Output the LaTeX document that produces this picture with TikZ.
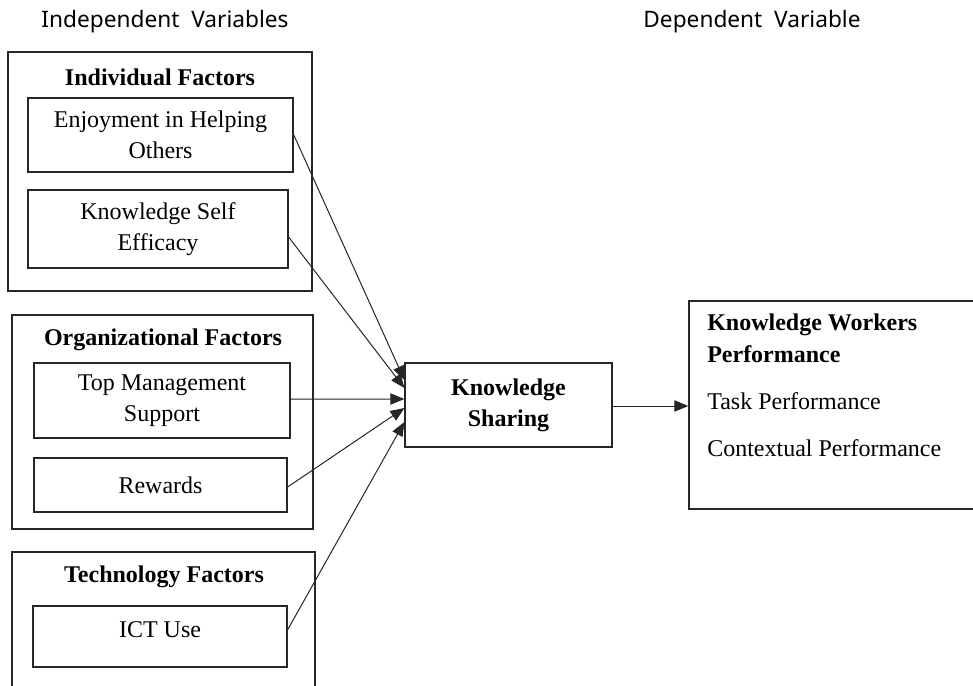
\documentclass[tikz,border=0pt]{standalone}
\usepackage{fontspec}
\setmainfont{Liberation Serif}
\newfontfamily\headfont{Noto Sans}
\usetikzlibrary{arrows.meta,positioning}

\tikzset{
  body/.style={font=\fontsize{18}{23}\selectfont},
  grp/.style={draw=black!85, line width=1pt, inner sep=0pt},
  inbox/.style={draw=black!85, line width=0.9pt, align=center, inner sep=0pt, body},
  grptitle/.style={font=\fontsize{18}{23}\selectfont\bfseries, inner sep=0pt},
  plain/.style={inner sep=0pt, body},
  head/.style={font=\headfont\fontsize{17}{20}\selectfont, inner sep=0pt},
  link/.style={draw=black!85, line width=0.75pt, -{Triangle[length=10.5pt,width=8.5pt]}}
}

\begin{document}
\begin{tikzpicture}[x=0.75pt,y=-0.75pt]
  \useasboundingbox (0,0) rectangle (973,685);
  \clip (0,0) rectangle (973,685);
  \fill[white] (0,0) rectangle (973,685);

  % column headings
  \node[head] (hind) at (165,22) {Independent\ \ Variables};
  \node[head] (hdep) at (752,22) {Dependent\ \ Variable};

  % individual factors
  \node[grp, minimum width=304*0.75pt, minimum height=239*0.75pt] (gind) at (160,171.5) {};
  \node[grptitle] (tind) at (160,77) {Individual Factors};
  \node[inbox, minimum width=265*0.75pt, minimum height=74*0.75pt, line width=1.2pt] (eho) at (160.5,135) {Enjoyment in Helping\\Others};
  \node[inbox, minimum width=260*0.75pt, minimum height=78*0.75pt] (kse) at (158,229) {Knowledge Self\\Efficacy};

  % organizational factors
  \node[grp, minimum width=301*0.75pt, minimum height=214*0.75pt] (gorg) at (162.5,422) {};
  \node[grptitle] (torg) at (163,340) {Organizational Factors};
  \node[inbox, minimum width=256*0.75pt, minimum height=75*0.75pt] (tms) at (162,400.5) {Top Management\\Support};
  \node[inbox, minimum width=253*0.75pt, minimum height=54*0.75pt] (rew) at (160.5,485) {Rewards};

  % technology factors (runs past the lower edge)
  \node[grp, minimum width=303*0.75pt, minimum height=160*0.75pt] (gtec) at (163.5,632) {};
  \node[grptitle] (ttec) at (164,577) {Technology Factors};
  \node[inbox, minimum width=254*0.75pt, minimum height=61*0.75pt] (ict) at (160,636.5) {};
  \node[plain] (ictt) at (160,630) {ICT Use};

  % mediator
  \node[inbox, minimum width=207*0.75pt, minimum height=84*0.75pt, font=\fontsize{18}{23}\selectfont\bfseries] (ks) at (508.5,405) {Knowledge\\Sharing};

  % outcome (runs past the right edge)
  \node[grp, minimum width=300*0.75pt, minimum height=208*0.75pt] (kwp) at (839,405) {};
  \node[plain, anchor=west, font=\fontsize{18}{23}\selectfont\bfseries] (kwp1) at (707,325) {Knowledge Workers};
  \node[plain, anchor=west, font=\fontsize{18}{23}\selectfont\bfseries] (kwp2) at (707,354) {Performance};
  \node[plain, anchor=west] (kwp3) at (707,401) {Task Performance};
  \node[plain, anchor=west] (kwp4) at (707,448) {Contextual Performance};

  % paths into knowledge sharing
  \draw[link] (eho.east) -- ([yshift=18.75pt]ks.west);
  \draw[link] ([yshift=-6pt]kse.east) -- ([yshift=12.75pt]ks.west);
  \draw[link] ([yshift=1pt]tms.east) -- ([yshift=4.5pt]ks.west);
  \draw[link] ([yshift=-1.5pt]rew.east) -- ([yshift=-2.25pt]ks.west);
  \draw[link] ([yshift=5pt]ict.east) -- ([yshift=-12.75pt]ks.west);

  % knowledge sharing to performance
  \draw[link] ([yshift=-0.75pt]ks.east) -- ([yshift=-0.75pt]ks.east -| kwp.west);
\end{tikzpicture}
\end{document}
